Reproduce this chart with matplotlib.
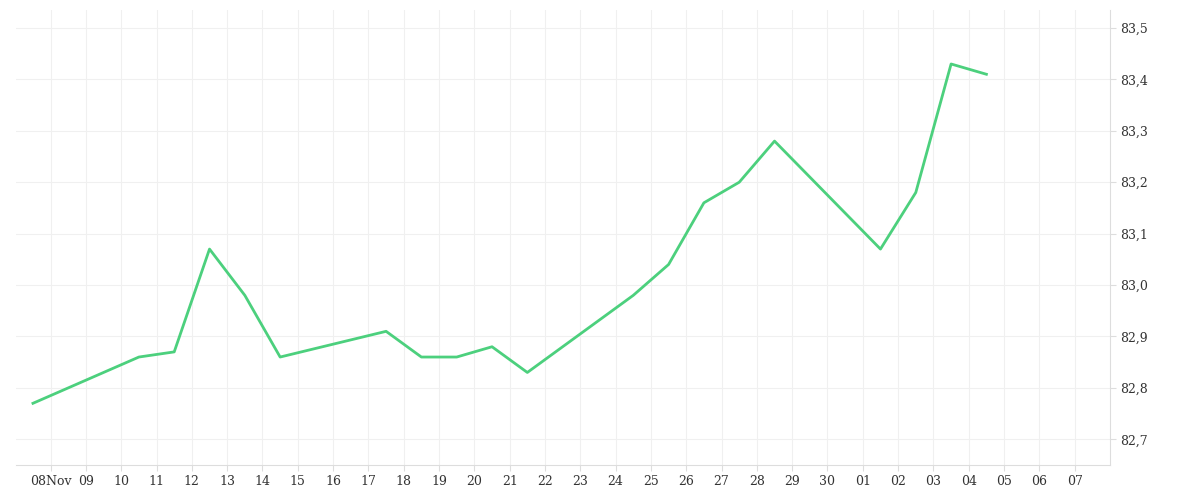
import matplotlib
matplotlib.use("Agg")
import matplotlib.pyplot as plt
from matplotlib.ticker import FuncFormatter

tick_labels = ["08Nov","09","10","11","12","13","14","15","16","17","18","19","20","21","22",
               "23","24","25","26","27","28","29","30","01","02","03","04","05","06","07"]
# day offsets from 08 Nov
x_days = [-0.5, 2.5, 3.5, 4.5, 5.5, 6.5, 9.5, 10.5, 11.5, 12.5, 13.5, 16.5, 17.5, 18.5, 19.5, 20.5,
          23.5, 24.5, 25.5, 26.5]
values = [82.77, 82.86, 82.87, 83.07, 82.98, 82.86, 82.91, 82.86, 82.86, 82.88, 82.83, 82.98,
          83.04, 83.16, 83.20, 83.28, 83.07, 83.18, 83.43, 83.41]
y_ticks = [82.7, 82.8, 82.9, 83.0, 83.1, 83.2, 83.3, 83.4, 83.5]

fig = plt.figure(figsize=(12, 5), dpi=100)
ax = fig.add_axes([16/1200, 35/500, (1110-16)/1200, (490-35)/500])
ax.plot(x_days, values, color="#4cd07d", lw=2)
ax.set_xlim(-0.98, 30.0)
ax.set_ylim(82.65, 83.535)
ax.set_xticks(range(len(tick_labels)))
ax.set_xticklabels(tick_labels, fontfamily="DejaVu Serif", fontsize=9, color="#333333")
ax.set_yticks(y_ticks)
ax.yaxis.set_major_formatter(FuncFormatter(lambda v, p: f"{v:.1f}".replace(".", ",")))
ax.yaxis.tick_right()
for l in ax.get_yticklabels():
    l.set_fontfamily("DejaVu Serif"); l.set_fontsize(9); l.set_color("#333333")
ax.grid(True, color="#f0f0f0", lw=0.8)
for s in ["top", "left"]:
    ax.spines[s].set_visible(False)
ax.spines["right"].set_color("#dddddd")
ax.spines["bottom"].set_color("#dddddd")
ax.tick_params(length=4, color="#dddddd", pad=3)
fig.savefig("out.png")
